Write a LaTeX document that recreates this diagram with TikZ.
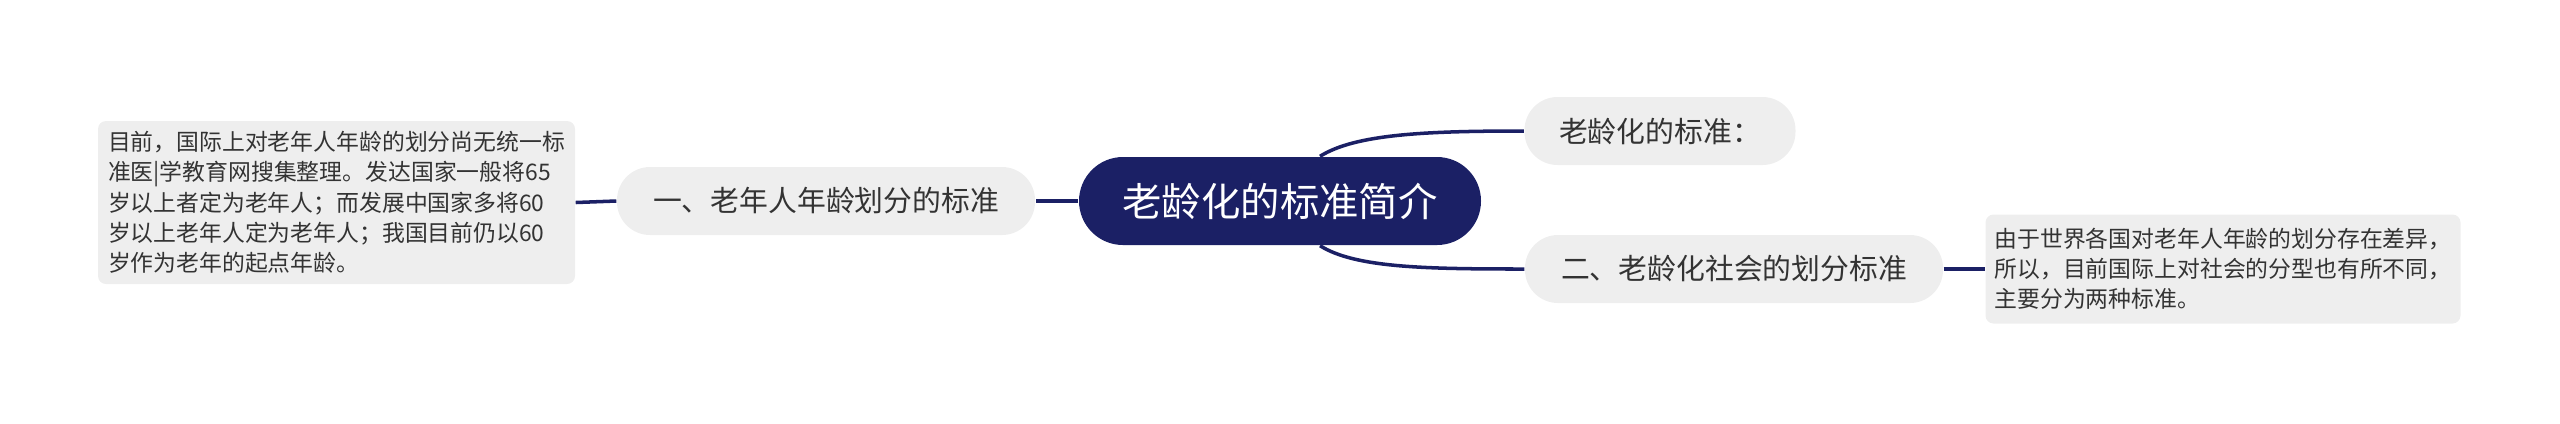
\documentclass[tikz,border=0pt]{standalone}
\usepackage{fontspec}
\setmainfont{Noto Sans CJK SC}
\usepackage{tikz}
\definecolor{navy}{HTML}{1B2065}
\definecolor{pale}{HTML}{EEEEEE}
\definecolor{ink}{HTML}{333333}
\tikzset{
    rootbox/.style = {fill=navy, text=white, rounded corners=0.44cm, minimum width=4.02cm, minimum height=0.88cm, inner sep=0pt, font=\fontsize{11.2}{13}\selectfont},
    topicbox/.style = {fill=pale, text=ink, rounded corners=0.33cm, minimum height=0.68cm, inner sep=0pt, font=\fontsize{8.2}{10}\selectfont},
    leafbox/.style = {fill=pale, text=ink, rounded corners=0.08cm, inner sep=0pt, align=left, font=\fontsize{6.5}{8.6}\selectfont},
    link/.style = {draw=navy, line width=1pt}
}
\begin{document}
\begin{tikzpicture}
    \useasboundingbox (0,0) rectangle (25.6,4.23);
    \node[rootbox] (central) at (12.80,2.22) {老龄化的标准简介};
    \node[topicbox, minimum width=2.71cm] (std) at (16.60,2.92) {老龄化的标准：};
    \node[topicbox, minimum width=4.18cm] (society) at (17.34,1.54) {二、老龄化社会的划分标准};
    \node[topicbox, minimum width=4.18cm] (age) at (8.26,2.22) {一、老年人年龄划分的标准};
    \node[leafbox, minimum width=4.75cm, minimum height=1.09cm] (societynote) at (22.23,1.54) {由于世界各国对老年人年龄的划分存在差异，\\所以，目前国际上对社会的分型也有所不同，\\主要分为两种标准。};
    \node[leafbox, minimum width=4.77cm, minimum height=1.63cm] (agenote) at (3.365,2.205) {目前，国际上对老年人年龄的划分尚无统一标\\准医|学教育网搜集整理。发达国家一般将65\\岁以上者定为老年人；而发展中国家多将60\\岁以上老年人定为老年人；我国目前仍以60\\岁作为老年的起点年龄。};
    % connectors
    \draw[link] ([xshift=4mm]central.north) .. controls +(0.35,0.22) and +(-1.0,0) .. (std.west);
    \draw[link] ([xshift=4mm]central.south) .. controls +(0.35,-0.22) and +(-1.0,0) .. (society.west);
    \draw[link] (central.west) -- (age.east);
    \draw[link] (age.west) -- (agenote.east);
    \draw[link] (society.east) -- (societynote.west);
\end{tikzpicture}
\end{document}
